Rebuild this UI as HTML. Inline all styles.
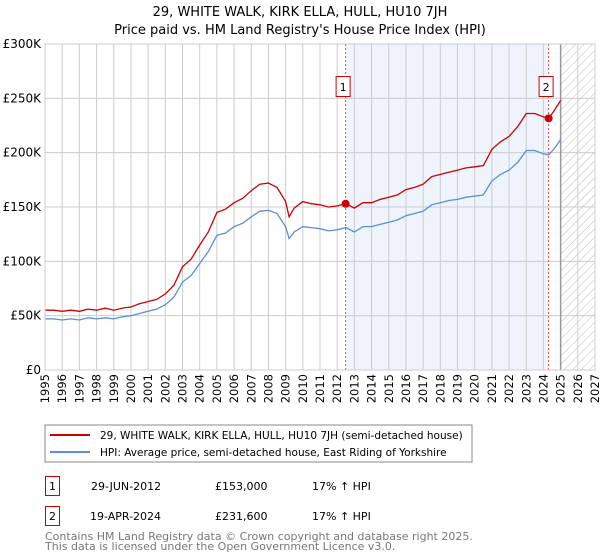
<!DOCTYPE html>
<html><head><meta charset="utf-8"><style>
body{margin:0;background:#fff;}
svg{display:block;font-family:"DejaVu Sans","Liberation Sans",sans-serif;}
</style></head><body>
<svg id="chart" width="600" height="560" viewBox="0 0 600 560">
<defs><pattern id="hatch" width="6" height="6" patternUnits="userSpaceOnUse" patternTransform="rotate(45)"><line x1="0" y1="0" x2="0" y2="6" stroke="#bbb" stroke-width="1"/></pattern></defs>
<text x="300" y="16" text-anchor="middle" font-size="13">29, WHITE WALK, KIRK ELLA, HULL, HU10 7JH</text>
<text x="300" y="34" text-anchor="middle" font-size="13">Price paid vs. HM Land Registry's House Price Index (HPI)</text>
<g id="plot"></g>
<rect x="45" y="425" width="427" height="37" fill="#fff" stroke="#888"/>
<line x1="50" y1="435" x2="90" y2="435" stroke="#cc0000" stroke-width="2"/>
<text x="100" y="439" font-size="10.5">29, WHITE WALK, KIRK ELLA, HULL, HU10 7JH (semi-detached house)</text>
<line x1="50" y1="452" x2="90" y2="452" stroke="#5b8fd4" stroke-width="2"/>
<text x="100" y="456" font-size="10.5">HPI: Average price, semi-detached house, East Riding of Yorkshire</text>
<g>
<rect x="45.5" y="476.5" width="14" height="19" fill="#fff" stroke="#cc0000"/>
<text x="52.5" y="490" text-anchor="middle" font-size="11">1</text>
<text x="91" y="490" font-size="11">29-JUN-2012</text>
<text x="215" y="490" font-size="11">£153,000</text>
<text x="312" y="490" font-size="11">17% ↑ HPI</text>
</g>
<g>
<rect x="45.5" y="506.5" width="14" height="19" fill="#fff" stroke="#cc0000"/>
<text x="52.5" y="520" text-anchor="middle" font-size="11">2</text>
<text x="90" y="520" font-size="11">19-APR-2024</text>
<text x="215" y="520" font-size="11">£231,600</text>
<text x="312" y="520" font-size="11">17% ↑ HPI</text>
</g>
<text x="45" y="540" font-size="11" fill="#777">Contains HM Land Registry data © Crown copyright and database right 2025.</text>
<text x="45" y="550" font-size="11" fill="#777">This data is licensed under the Open Government Licence v3.0.</text>
</svg>
<script>
const dates=[1995,1995.5,1996,1996.5,1997,1997.5,1998,1998.5,1999,1999.5,2000,2000.5,2001,2001.5,2002,2002.5,2003,2003.5,2004,2004.5,2005,2005.5,2006,2006.5,2007,2007.5,2008,2008.5,2009,2009.2,2009.5,2010,2010.5,2011,2011.5,2012,2012.5,2013,2013.5,2014,2014.5,2015,2015.5,2016,2016.5,2017,2017.5,2018,2018.5,2019,2019.5,2020,2020.5,2021,2021.5,2022,2022.5,2023,2023.5,2024,2024.3,2024.6,2025];
const propertyValues=[55,55,54,55,54,56,55,57,55,57,58,61,63,65,70,78,95,102,115,127,145,148,154,158,165,171,172,168,155,141,149,155,153,152,150,151,153,149,154,154,157,159,161,166,168,171,178,180,182,184,186,187,188,203,210,215,224,236,236,233,231.6,238,248];
const hpiValues=[47,47,46,47,46,48,47,48,47,49,50,52,54,56,60,67,81,87,98,109,124,126,132,135,141,146,147,144,132,121,127,132,131,130,128,129,131,127,132,132,134,136,138,142,144,146,152,154,156,157,159,160,161,174,180,184,191,202,202,199,198,203,212];
const yTicks=[0,50,100,150,200,250,300];
const yTickLabels=["£0","£50K","£100K","£150K","£200K","£250K","£300K"];
const xTicks=[1995,1996,1997,1998,1999,2000,2001,2002,2003,2004,2005,2006,2007,2008,2009,2010,2011,2012,2013,2014,2015,2016,2017,2018,2019,2020,2021,2022,2023,2024,2025,2026,2027];
const saleDates=[2012.49,2024.3];
const salePrices=[153,231.6];
const saleLabels=["1","2"];
const dataEnd=2025;
const X0=45,X1=595,Y0=370,Y1=44,XMIN=1995,XMAX=2027,YMAX=300;
const x=v=>X0+(v-XMIN)/(XMAX-XMIN)*(X1-X0);
const y=v=>Y0-v/YMAX*(Y0-Y1);
const NS="http://www.w3.org/2000/svg";
const g=document.getElementById('plot');
function mk(t,a){const e=document.createElementNS(NS,t);for(const k in a)e.setAttribute(k,a[k]);g.appendChild(e);return e;}
let e;
e=mk('rect',{x:x(saleDates[0]),y:Y1,width:x(saleDates[1])-x(saleDates[0]),height:Y0-Y1,fill:'#eef3fc'});


e=mk('rect',{x:x(dataEnd),y:Y1,width:X1-x(dataEnd),height:Y0-Y1,fill:'url(#hatch)'});


xTicks.forEach(t=>{
 e=mk('line',{x1:x(t),x2:x(t),y1:Y1,y2:Y0,stroke:'#ccc','stroke-width':1});
 
 
 e=mk('text',{transform:`translate(${x(t)+4},${Y0+4}) rotate(-90)`,'text-anchor':'end','font-size':11.5});
 e.textContent=t;
 
 
});
yTicks.forEach((t,i)=>{
 e=mk('line',{x1:X0,x2:X1,y1:y(t),y2:y(t),stroke:'#ccc','stroke-width':1});
 
 
 e=mk('text',{x:X0-4,y:y(t)+4,'text-anchor':'end','font-size':12});
 e.textContent=yTickLabels[i];
 
 
});
e=mk('line',{x1:x(dataEnd),x2:x(dataEnd),y1:Y1,y2:Y0,stroke:'#999','stroke-width':1.5});


saleDates.forEach((d,i)=>{
 e=mk('line',{x1:x(d),x2:x(d),y1:Y1,y2:Y0,stroke:'#e55','stroke-width':1,'stroke-dasharray':'2,2'});
 
 
});
function path(vals){return dates.map((d,i)=>(i?'L':'M')+x(d).toFixed(1)+','+y(vals[i]).toFixed(1)).join('');}
e=mk('path',{d:path(hpiValues),fill:'none',stroke:'#5b8fd4','stroke-width':1.3});


e=mk('path',{d:path(propertyValues),fill:'none',stroke:'#cc0000','stroke-width':1.3});


saleDates.forEach((d,i)=>{
 e=mk('circle',{cx:x(d),cy:y(salePrices[i]),r:4,fill:'#cc0000'});
 
 
 e=mk('rect',{x:x(d)-9.5,y:76.5,width:14,height:20,fill:'#fff',stroke:'#cc0000'});
 
 
 e=mk('text',{x:x(d)-2.5,y:91,'text-anchor':'middle','font-size':11});
 e.textContent=saleLabels[i];
 
 
});
e=mk('rect',{x:X0,y:Y1,width:X1-X0,height:Y0-Y1,fill:'none',stroke:'#ccc'});


</script>
</body></html>
